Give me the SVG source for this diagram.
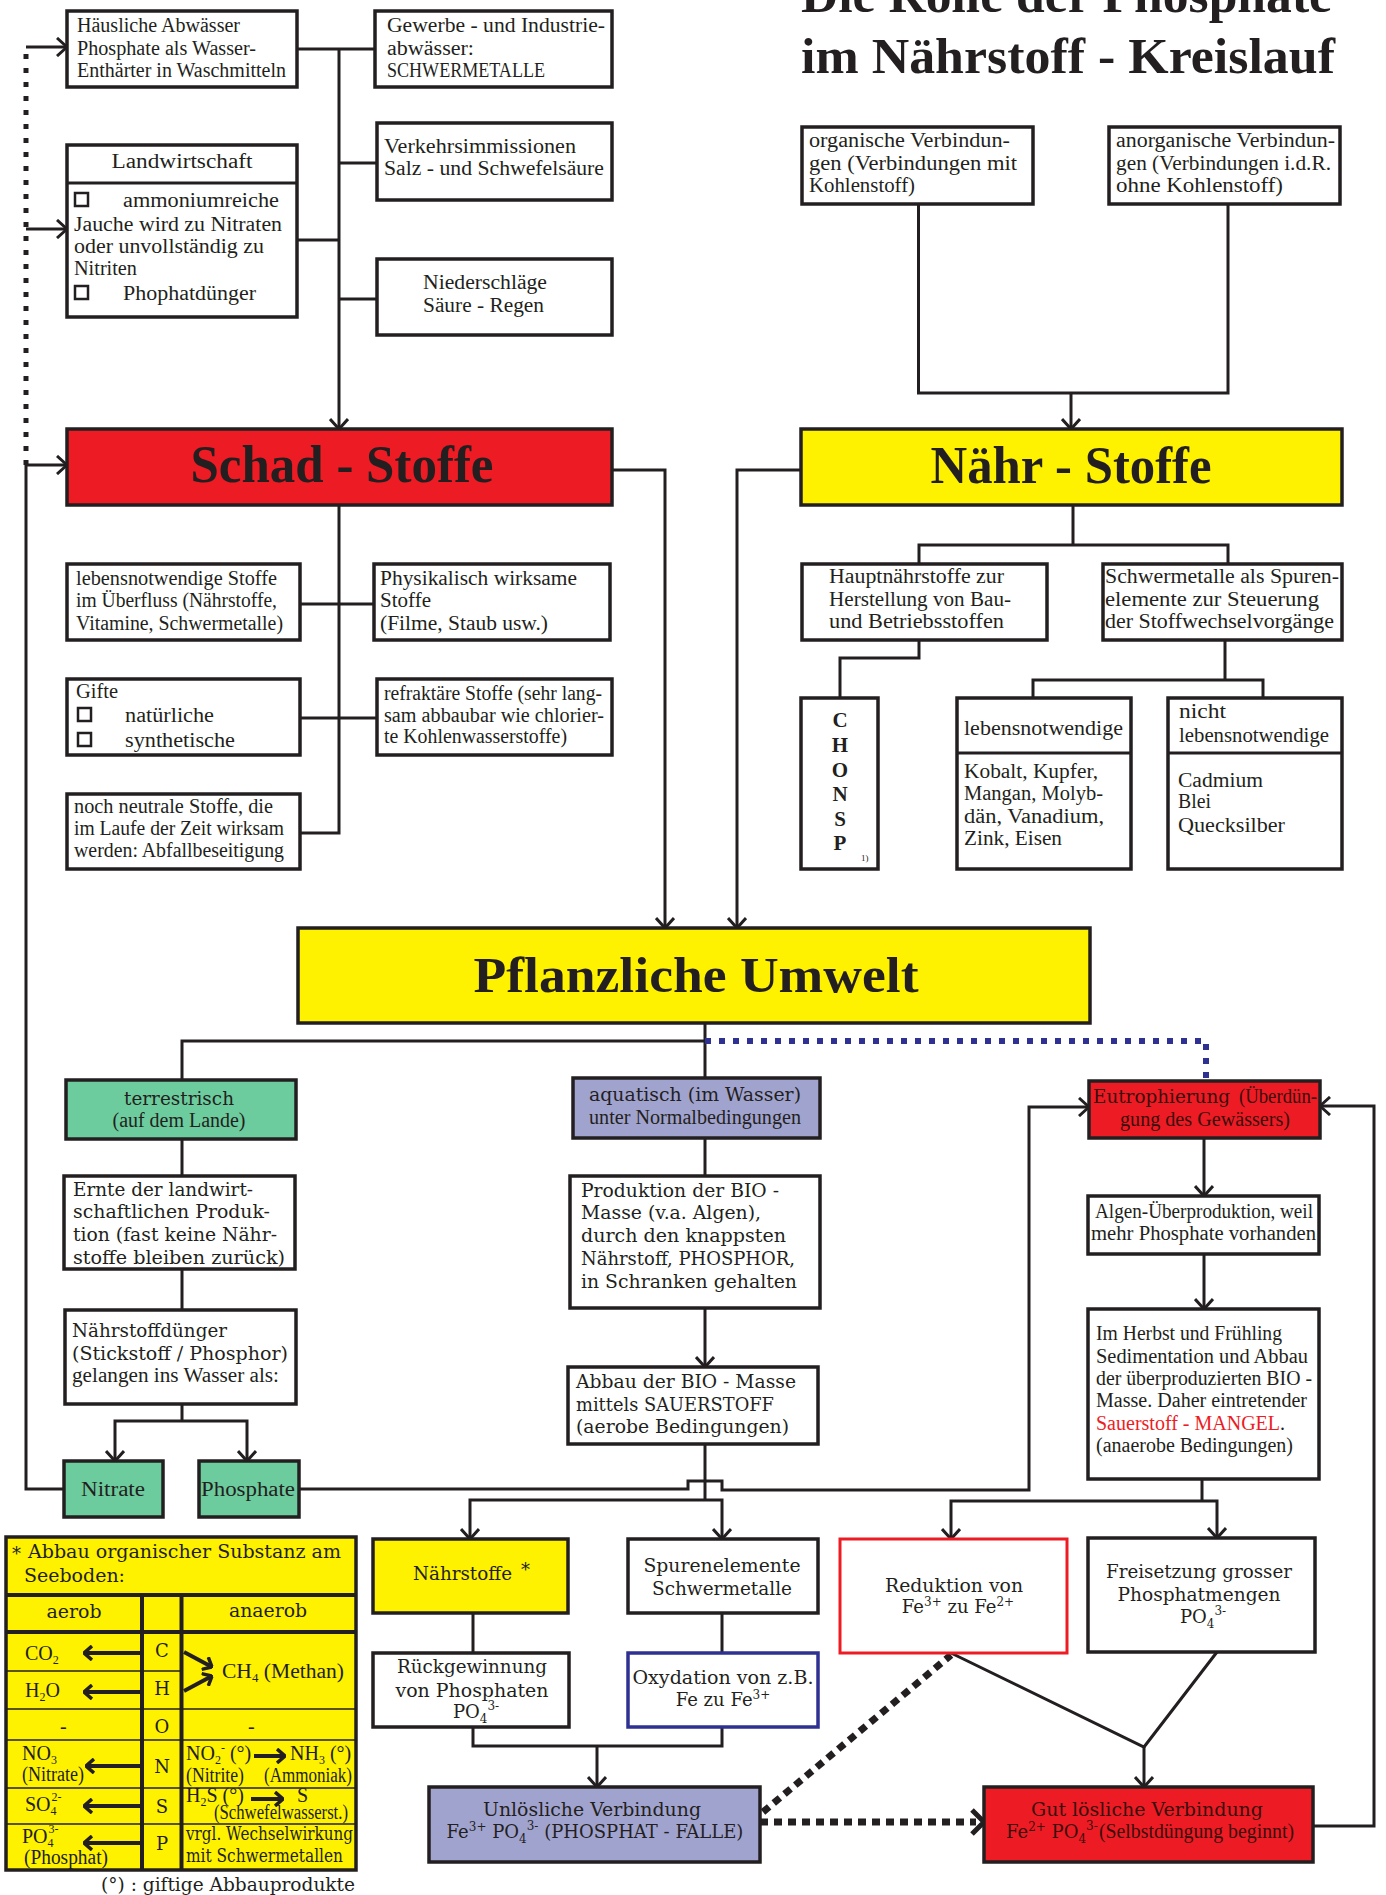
<svg xmlns="http://www.w3.org/2000/svg" width="1386" height="1895" viewBox="0 0 1386 1895">
<defs>
<style>
.b{fill:#fff;stroke:#231F20;stroke-width:3.5}
.r{fill:#ED1C24}
.y{fill:#FFF200}
.g{fill:#6DCC9E}
.l{fill:#A1A3CF}
.t{font-family:"Liberation Serif","Times New Roman",serif;font-size:20px;fill:#231F20}
.w{font-family:"DejaVu Serif","Liberation Serif",serif;font-size:18px;fill:#231F20}
.h{font-family:"Liberation Serif","Times New Roman",serif;font-weight:bold;fill:#231F20}
.m{text-anchor:middle}
.ln{fill:none;stroke:#231F20;stroke-width:3}
.a{marker-end:url(#ah)}
.cb{fill:none;stroke:#231F20;stroke-width:2.5}
.dk{fill:none;stroke:#231F20;stroke-width:5;stroke-dasharray:5 9}
.dt{fill:none;stroke:#231F20;stroke-width:7;stroke-dasharray:8 6}
.bl{fill:none;stroke:#2E3192;stroke-width:6;stroke-dasharray:6 8}
.ta{fill:none;stroke:#231F20;stroke-width:4;marker-end:url(#tb)}
.s{font-size:12px}
.dr{fill:#3C0D0D}
</style>
<marker id="ah" viewBox="0 0 12 20" refX="11" refY="10" markerWidth="12" markerHeight="20" markerUnits="userSpaceOnUse" orient="auto">
<path d="M1,1 L11,10 L1,19" fill="none" stroke="#231F20" stroke-width="3"/>
</marker>
<marker id="tb" viewBox="0 0 10 16" refX="9" refY="8" markerWidth="10" markerHeight="16" markerUnits="userSpaceOnUse" orient="auto">
<path d="M1,1 L9,8 L1,15" fill="none" stroke="#231F20" stroke-width="3.5"/>
</marker>
</defs>
<rect width="1386" height="1895" fill="#fff"/>

<g id="titel">
<text class="h" x="801" y="12" font-size="50" textLength="531" lengthAdjust="spacingAndGlyphs">Die Rolle der Phosphate</text>
<text class="h" x="801" y="73" font-size="50" textLength="534" lengthAdjust="spacingAndGlyphs">im Nährstoff - Kreislauf</text>
</g>

<g id="connectors">
<path class="ln" d="M297,49 H375"/>
<path class="ln a" d="M339,49 V429"/>
<path class="ln" d="M339,163 H377"/>
<path class="ln" d="M297,240 H339"/>
<path class="ln" d="M339,299 H377"/>
<path class="ln" d="M339,505 V833 H300"/>
<path class="ln" d="M300,604 H374"/>
<path class="ln" d="M300,718 H377"/>
<path class="ln a" d="M612,470 H665 V928"/>
<path class="ln a" d="M801,470 H737 V928"/>
<path class="ln" d="M918.5,204 V393 H1228 V204"/>
<path class="ln a" d="M1071,393 V429"/>
<path class="ln" d="M1073,505 V545 M919,564 V545 H1228 V564"/>
<path class="ln" d="M919,640 V658 H840 V698"/>
<path class="ln" d="M1225,640 V680 M1033,698 V680 H1263 V698"/>
<path class="ln" d="M705,1023 V1078 M182,1080 V1041 H705"/>
<path class="bl" d="M705,1041 H1206 V1081"/>
<path class="ln" d="M182,1139 V1176 M182,1269 V1310 M182,1404 V1421"/>
<path class="ln a" d="M182,1421 H115 V1461"/>
<path class="ln a" d="M182,1421 H247 V1461"/>
<path class="ln a" d="M64,1489 H26 V465 H67"/>
<path class="dk" d="M26,465 V45"/>
<path class="ln a" d="M26,47 H67"/>
<path class="ln a" d="M26,229 H67"/>
<path class="ln a" d="M299,1489 H688 V1481 H722 V1490 H1029 V1107 H1089"/>
<path class="ln" d="M705,1138 V1176"/>
<path class="ln a" d="M705,1308 V1367"/>
<path class="ln" d="M705,1444 V1500"/>
<path class="ln a" d="M705,1500 H470 V1539"/>
<path class="ln a" d="M705,1500 H722 V1539"/>
<path class="ln" d="M473,1613 V1653 M722,1613 V1653 M473,1727 V1746 H722 V1727"/>
<path class="ln a" d="M597,1746 V1787"/>
<path class="ln a" d="M1204,1138 V1196"/>
<path class="ln a" d="M1204,1254 V1309"/>
<path class="ln" d="M1202,1479 V1501"/>
<path class="ln a" d="M1202,1501 H951 V1539"/>
<path class="ln a" d="M1202,1501 H1217 V1538"/>
<path class="ln" d="M951,1653 L1144,1747 L1217,1652"/>
<path class="ln a" d="M1144,1747 V1787"/>
<path class="ln a" d="M1313,1826 H1374 V1106 H1320"/>
<path class="dt" d="M760,1822 H976"/>
<path d="M972,1810 L984,1822 L972,1834" fill="none" stroke="#231F20" stroke-width="5"/>
<path class="dt" d="M763,1812 L951,1655"/>
</g>

<g id="haeusliche">
<rect class="b" x="67" y="11" width="230" height="76"/>
<text class="t" x="77" y="32" textLength="163" lengthAdjust="spacingAndGlyphs">Häusliche Abwässer</text>
<text class="t" x="77" y="55" textLength="179" lengthAdjust="spacingAndGlyphs">Phosphate als Wasser-</text>
<text class="t" x="77" y="77" textLength="209" lengthAdjust="spacingAndGlyphs">Enthärter in Waschmitteln</text>
</g>
<g id="gewerbe">
<rect class="b" x="375" y="11" width="237" height="76"/>
<text class="t" x="387" y="32" textLength="218" lengthAdjust="spacingAndGlyphs">Gewerbe - und Industrie-</text>
<text class="t" x="387" y="55" textLength="87" lengthAdjust="spacingAndGlyphs">abwässer:</text>
<text class="t" x="387" y="77" textLength="158" lengthAdjust="spacingAndGlyphs">SCHWERMETALLE</text>
</g>
<g id="verkehr">
<rect class="b" x="377" y="123" width="235" height="77"/>
<text class="t" x="384" y="153" textLength="192" lengthAdjust="spacingAndGlyphs">Verkehrsimmissionen</text>
<text class="t" x="384" y="175" textLength="220" lengthAdjust="spacingAndGlyphs">Salz - und Schwefelsäure</text>
</g>
<g id="landwirtschaft">
<rect class="b" x="67" y="145" width="230" height="172"/>
<path class="ln" d="M67,183 H297" stroke-width="3.5"/>
<text class="t m" x="182" y="168" textLength="141" lengthAdjust="spacingAndGlyphs">Landwirtschaft</text>
<rect class="cb" x="75" y="193" width="13" height="13"/>
<text class="t" x="123" y="207" textLength="156" lengthAdjust="spacingAndGlyphs">ammoniumreiche</text>
<text class="t" x="74" y="231" textLength="208" lengthAdjust="spacingAndGlyphs">Jauche wird zu Nitraten</text>
<text class="t" x="74" y="253" textLength="190" lengthAdjust="spacingAndGlyphs">oder unvollständig zu</text>
<text class="t" x="74" y="275" textLength="63" lengthAdjust="spacingAndGlyphs">Nitriten</text>
<rect class="cb" x="75" y="286" width="13" height="13"/>
<text class="t" x="123" y="300" textLength="133" lengthAdjust="spacingAndGlyphs">Phophatdünger</text>
</g>
<g id="niederschlaege">
<rect class="b" x="377" y="259" width="235" height="76"/>
<text class="t" x="423" y="289" textLength="124" lengthAdjust="spacingAndGlyphs">Niederschläge</text>
<text class="t" x="423" y="312" textLength="121" lengthAdjust="spacingAndGlyphs">Säure - Regen</text>
</g>
<g id="schadstoffe">
<rect class="b r" x="67" y="429" width="545" height="76"/>
<text class="h m" x="342" y="482" font-size="53" textLength="303" lengthAdjust="spacingAndGlyphs">Schad - Stoffe</text>
</g>
<g id="naehrstoffe">
<rect class="b y" x="801" y="429" width="541" height="76"/>
<text class="h m" x="1071" y="483" font-size="53" textLength="281" lengthAdjust="spacingAndGlyphs">Nähr - Stoffe</text>
</g>
<g id="organische">
<rect class="b" x="802" y="127" width="231" height="77"/>
<text class="t" x="809" y="147" textLength="201" lengthAdjust="spacingAndGlyphs">organische Verbindun-</text>
<text class="t" x="809" y="170" textLength="208" lengthAdjust="spacingAndGlyphs">gen (Verbindungen mit</text>
<text class="t" x="809" y="192" textLength="106" lengthAdjust="spacingAndGlyphs">Kohlenstoff)</text>
</g>
<g id="anorganische">
<rect class="b" x="1109" y="127" width="231" height="77"/>
<text class="t" x="1116" y="147" textLength="219" lengthAdjust="spacingAndGlyphs">anorganische Verbindun-</text>
<text class="t" x="1116" y="170" textLength="215" lengthAdjust="spacingAndGlyphs">gen (Verbindungen i.d.R.</text>
<text class="t" x="1116" y="192" textLength="167" lengthAdjust="spacingAndGlyphs">ohne  Kohlenstoff)</text>
</g>
<g id="lebensnotwendige-stoffe">
<rect class="b" x="67" y="564" width="233" height="76"/>
<text class="t" x="76" y="585" textLength="201" lengthAdjust="spacingAndGlyphs">lebensnotwendige Stoffe</text>
<text class="t" x="76" y="607" textLength="201" lengthAdjust="spacingAndGlyphs">im Überfluss (Nährstoffe,</text>
<text class="t" x="76" y="630" textLength="207" lengthAdjust="spacingAndGlyphs">Vitamine, Schwermetalle)</text>
</g>
<g id="physikalisch">
<rect class="b" x="374" y="564" width="236" height="76"/>
<text class="t" x="380" y="585" textLength="197" lengthAdjust="spacingAndGlyphs">Physikalisch wirksame</text>
<text class="t" x="380" y="607" textLength="51" lengthAdjust="spacingAndGlyphs">Stoffe</text>
<text class="t" x="380" y="630" textLength="168" lengthAdjust="spacingAndGlyphs">(Filme, Staub usw.)</text>
</g>
<g id="gifte">
<rect class="b" x="67" y="679" width="233" height="76"/>
<text class="t" x="76" y="698" textLength="42" lengthAdjust="spacingAndGlyphs">Gifte</text>
<rect class="cb" x="78" y="708" width="13" height="13"/>
<text class="t" x="125" y="722" textLength="89" lengthAdjust="spacingAndGlyphs">natürliche</text>
<rect class="cb" x="78" y="733" width="13" height="13"/>
<text class="t" x="125" y="747" textLength="110" lengthAdjust="spacingAndGlyphs">synthetische</text>
</g>
<g id="refraktaer">
<rect class="b" x="377" y="679" width="235" height="76"/>
<text class="t" x="384" y="700" textLength="218" lengthAdjust="spacingAndGlyphs">refraktäre Stoffe (sehr lang-</text>
<text class="t" x="384" y="722" textLength="220" lengthAdjust="spacingAndGlyphs">sam abbaubar wie chlorier-</text>
<text class="t" x="384" y="743" textLength="183" lengthAdjust="spacingAndGlyphs">te Kohlenwasserstoffe)</text>
</g>
<g id="neutrale">
<rect class="b" x="67" y="794" width="233" height="75"/>
<text class="t" x="74" y="813" textLength="199" lengthAdjust="spacingAndGlyphs">noch neutrale Stoffe, die</text>
<text class="t" x="74" y="835" textLength="210" lengthAdjust="spacingAndGlyphs">im Laufe der Zeit wirksam</text>
<text class="t" x="74" y="857" textLength="210" lengthAdjust="spacingAndGlyphs">werden: Abfallbeseitigung</text>
</g>
<g id="hauptnaehrstoffe">
<rect class="b" x="802" y="564" width="245" height="76"/>
<text class="t" x="829" y="583" textLength="175" lengthAdjust="spacingAndGlyphs">Hauptnährstoffe zur</text>
<text class="t" x="829" y="606" textLength="182" lengthAdjust="spacingAndGlyphs">Herstellung von Bau-</text>
<text class="t" x="829" y="628" textLength="175" lengthAdjust="spacingAndGlyphs">und Betriebsstoffen</text>
</g>
<g id="schwermetalle">
<rect class="b" x="1103" y="564" width="239" height="76"/>
<text class="t" x="1105" y="583" textLength="234" lengthAdjust="spacingAndGlyphs">Schwermetalle als Spuren-</text>
<text class="t" x="1105" y="606" textLength="214" lengthAdjust="spacingAndGlyphs">elemente zur Steuerung</text>
<text class="t" x="1105" y="628" textLength="229" lengthAdjust="spacingAndGlyphs">der Stoffwechselvorgänge</text>
</g>
<g id="chonsp">
<rect class="b" x="801" y="698" width="77" height="171"/>
<text class="h m" x="840" y="727" font-size="21">C</text>
<text class="h m" x="840" y="752" font-size="21">H</text>
<text class="h m" x="840" y="777" font-size="21">O</text>
<text class="h m" x="840" y="801" font-size="21">N</text>
<text class="h m" x="840" y="826" font-size="21">S</text>
<text class="h m" x="840" y="850" font-size="21">P</text>
<text class="t" x="861" y="861" style="font-size:9px">1)</text>
</g>
<g id="lebensnotwendige">
<rect class="b" x="957" y="698" width="174" height="171"/>
<path class="ln" d="M957,753 H1131" stroke-width="3.5"/>
<text class="t" x="964" y="735" textLength="159" lengthAdjust="spacingAndGlyphs">lebensnotwendige</text>
<text class="t" x="964" y="778" textLength="134" lengthAdjust="spacingAndGlyphs">Kobalt, Kupfer,</text>
<text class="t" x="964" y="800" textLength="139" lengthAdjust="spacingAndGlyphs">Mangan, Molyb-</text>
<text class="t" x="964" y="823" textLength="140" lengthAdjust="spacingAndGlyphs">dän, Vanadium,</text>
<text class="t" x="964" y="845" textLength="98" lengthAdjust="spacingAndGlyphs">Zink, Eisen</text>
</g>
<g id="nicht-lebensnotwendige">
<rect class="b" x="1168" y="698" width="174" height="171"/>
<path class="ln" d="M1168,753 H1342" stroke-width="3.5"/>
<text class="t" x="1179" y="718" textLength="47" lengthAdjust="spacingAndGlyphs">nicht</text>
<text class="t" x="1179" y="742" textLength="150" lengthAdjust="spacingAndGlyphs">lebensnotwendige</text>
<text class="t" x="1178" y="787" textLength="85" lengthAdjust="spacingAndGlyphs">Cadmium</text>
<text class="t" x="1178" y="808" textLength="33" lengthAdjust="spacingAndGlyphs">Blei</text>
<text class="t" x="1178" y="832" textLength="107" lengthAdjust="spacingAndGlyphs">Quecksilber</text>
</g>
<g id="pflanzliche-umwelt">
<rect class="b y" x="298" y="928" width="792" height="95"/>
<text class="h m" x="696" y="992" font-size="50" textLength="445" lengthAdjust="spacingAndGlyphs">Pflanzliche Umwelt</text>
</g>
<g id="terrestrisch">
<rect class="b g" x="66" y="1080" width="230" height="59"/>
<text class="w m" x="179" y="1105" textLength="110" lengthAdjust="spacingAndGlyphs">terrestrisch</text>
<text class="t m" x="179" y="1127" textLength="133" lengthAdjust="spacingAndGlyphs">(auf dem Lande)</text>
</g>
<g id="aquatisch">
<rect class="b l" x="573" y="1078" width="247" height="60"/>
<text class="w" x="589" y="1101" textLength="212" lengthAdjust="spacingAndGlyphs">aquatisch (im Wasser)</text>
<text class="t" x="589" y="1124" textLength="212" lengthAdjust="spacingAndGlyphs">unter Normalbedingungen</text>
</g>
<g id="ernte">
<rect class="b" x="64" y="1176" width="231" height="93"/>
<text class="w" x="73" y="1196" textLength="180" lengthAdjust="spacingAndGlyphs">Ernte der landwirt-</text>
<text class="w" x="73" y="1218" textLength="197" lengthAdjust="spacingAndGlyphs">schaftlichen Produk-</text>
<text class="w" x="73" y="1241" textLength="204" lengthAdjust="spacingAndGlyphs">tion (fast keine Nähr-</text>
<text class="w" x="73" y="1264" textLength="212" lengthAdjust="spacingAndGlyphs">stoffe bleiben zurück)</text>
</g>
<g id="duenger">
<rect class="b" x="65" y="1310" width="231" height="94"/>
<text class="w" x="72" y="1337" textLength="155" lengthAdjust="spacingAndGlyphs">Nährstoffdünger</text>
<text class="w" x="72" y="1360" textLength="216" lengthAdjust="spacingAndGlyphs">(Stickstoff / Phosphor)</text>
<text class="t" x="72" y="1382" textLength="207" lengthAdjust="spacingAndGlyphs">gelangen ins Wasser als:</text>
</g>
<g id="nitrate">
<rect class="b g" x="64" y="1461" width="99" height="56"/>
<text class="t m" x="113" y="1496" textLength="64" lengthAdjust="spacingAndGlyphs">Nitrate</text>
</g>
<g id="phosphate">
<rect class="b g" x="199" y="1461" width="100" height="56"/>
<text class="t m" x="248" y="1496" textLength="94" lengthAdjust="spacingAndGlyphs">Phosphate</text>
</g>
<g id="produktion">
<rect class="b" x="570" y="1176" width="250" height="132"/>
<text class="w" x="581" y="1197" textLength="198" lengthAdjust="spacingAndGlyphs">Produktion der BIO -</text>
<text class="w" x="581" y="1219" textLength="180" lengthAdjust="spacingAndGlyphs">Masse (v.a. Algen),</text>
<text class="w" x="581" y="1242" textLength="205" lengthAdjust="spacingAndGlyphs">durch den knappsten</text>
<text class="w" x="581" y="1265" textLength="214" lengthAdjust="spacingAndGlyphs">Nährstoff, PHOSPHOR,</text>
<text class="w" x="581" y="1288" textLength="216" lengthAdjust="spacingAndGlyphs">in Schranken gehalten</text>
</g>
<g id="abbau">
<rect class="b" x="568" y="1367" width="250" height="77"/>
<text class="w" x="576" y="1388" textLength="220" lengthAdjust="spacingAndGlyphs">Abbau der BIO - Masse</text>
<text class="w" x="576" y="1411" textLength="198" lengthAdjust="spacingAndGlyphs">mittels SAUERSTOFF</text>
<text class="w" x="576" y="1433" textLength="213" lengthAdjust="spacingAndGlyphs">(aerobe Bedingungen)</text>
</g>
<g id="eutrophierung">
<rect class="b r" x="1089" y="1081" width="231" height="57"/>
<text class="w dr" x="1093" y="1103" textLength="137" lengthAdjust="spacingAndGlyphs">Eutrophierung</text>
<text class="t dr" x="1239" y="1103" textLength="78" lengthAdjust="spacingAndGlyphs">(Überdün-</text>
<text class="t dr" x="1120" y="1126" textLength="170" lengthAdjust="spacingAndGlyphs">gung des Gewässers)</text>
</g>
<g id="algen">
<rect class="b" x="1088" y="1196" width="231" height="58"/>
<text class="t" x="1095" y="1218" textLength="218" lengthAdjust="spacingAndGlyphs">Algen-Überproduktion, weil</text>
<text class="t" x="1091" y="1240" textLength="225" lengthAdjust="spacingAndGlyphs">mehr Phosphate vorhanden</text>
</g>
<g id="herbst">
<rect class="b" x="1088" y="1309" width="231" height="170"/>
<text class="t" x="1096" y="1340" textLength="186" lengthAdjust="spacingAndGlyphs">Im Herbst und Frühling</text>
<text class="t" x="1096" y="1363" textLength="212" lengthAdjust="spacingAndGlyphs">Sedimentation und Abbau</text>
<text class="t" x="1096" y="1385" textLength="216" lengthAdjust="spacingAndGlyphs">der überproduzierten BIO -</text>
<text class="t" x="1096" y="1407" textLength="211" lengthAdjust="spacingAndGlyphs">Masse. Daher eintretender</text>
<text class="t" x="1096" y="1430" style="fill:#ED1C24">Sauerstoff - MANGEL<tspan style="fill:#231F20">.</tspan></text>
<text class="t" x="1096" y="1452" textLength="197" lengthAdjust="spacingAndGlyphs">(anaerobe Bedingungen)</text>
</g>
<g id="naehrstoffe-stern">
<rect class="b y" x="373" y="1539" width="195" height="74"/>
<text class="w" x="413" y="1580" textLength="99" lengthAdjust="spacingAndGlyphs">Nährstoffe</text>
<text class="w" x="521" y="1576" font-size="13">*</text>
</g>
<g id="spurenelemente">
<rect class="b" x="628" y="1539" width="190" height="74"/>
<text class="w m" x="722" y="1572" textLength="157" lengthAdjust="spacingAndGlyphs">Spurenelemente</text>
<text class="w m" x="722" y="1595" textLength="140" lengthAdjust="spacingAndGlyphs">Schwermetalle</text>
</g>
<g id="rueckgewinnung">
<rect class="b" x="373" y="1653" width="196" height="74"/>
<text class="w m" x="472" y="1673" textLength="150" lengthAdjust="spacingAndGlyphs">Rückgewinnung</text>
<text class="w m" x="472" y="1697" textLength="153" lengthAdjust="spacingAndGlyphs">von Phosphaten</text>
<text class="w m" x="476" y="1718">PO<tspan class="s" dy="5">4</tspan><tspan class="s" dy="-13">3-</tspan></text>
</g>
<g id="oxydation">
<rect x="628" y="1653" width="190" height="74" fill="#fff" stroke="#2E3192" stroke-width="3.5"/>
<text class="w m" x="723" y="1684" textLength="181" lengthAdjust="spacingAndGlyphs">Oxydation von z.B.</text>
<text class="w m" x="723" y="1706">Fe zu Fe<tspan class="s" dy="-7">3+</tspan></text>
</g>
<g id="unloeslich">
<rect class="b l" x="429" y="1787" width="331" height="75"/>
<text class="w m" x="592" y="1816" textLength="218" lengthAdjust="spacingAndGlyphs">Unlösliche Verbindung</text>
<text class="w m" x="595" y="1838">Fe<tspan class="s" dy="-7">3+</tspan><tspan dy="7"> PO</tspan><tspan class="s" dy="5">4</tspan><tspan class="s" dy="-13">3-</tspan><tspan dy="8"> (PHOSPHAT - FALLE)</tspan></text>
</g>
<g id="reduktion">
<rect x="840" y="1539" width="227" height="114" fill="#fff" stroke="#ED1C24" stroke-width="3"/>
<text class="w m" x="954" y="1592" textLength="138" lengthAdjust="spacingAndGlyphs">Reduktion von</text>
<text class="w m" x="958" y="1613">Fe<tspan class="s" dy="-7">3+</tspan><tspan dy="7"> zu Fe</tspan><tspan class="s" dy="-7">2+</tspan></text>
</g>
<g id="freisetzung">
<rect class="b" x="1088" y="1538" width="227" height="114"/>
<text class="w m" x="1199" y="1578" textLength="186" lengthAdjust="spacingAndGlyphs">Freisetzung grosser</text>
<text class="w m" x="1199" y="1601" textLength="163" lengthAdjust="spacingAndGlyphs">Phosphatmengen</text>
<text class="w m" x="1203" y="1623">PO<tspan class="s" dy="5">4</tspan><tspan class="s" dy="-13">3-</tspan></text>
</g>
<g id="gut-loeslich">
<rect class="b r" x="984" y="1787" width="329" height="75"/>
<text class="w m dr" x="1147" y="1816" textLength="232" lengthAdjust="spacingAndGlyphs">Gut lösliche Verbindung</text>
<text class="w dr" x="1006" y="1838">Fe<tspan class="s" dy="-7">2+</tspan><tspan dy="7"> PO</tspan><tspan class="s" dy="5">4</tspan><tspan class="s" dy="-13">3-</tspan></text>
<text class="t dr" x="1099" y="1838" textLength="195" lengthAdjust="spacingAndGlyphs">(Selbstdüngung beginnt)</text>
</g>

<g id="tabelle">
<rect x="6" y="1537" width="350" height="333" fill="#FFF200" stroke="#231F20" stroke-width="3.5"/>
<path d="M6,1595 H356 M6,1632 H356 M142,1595 V1870 M181.5,1595 V1870" stroke="#231F20" stroke-width="4" fill="none"/>
<path d="M6,1671 H181 M6,1709 H356 M6,1740 H356 M6,1788 H356 M6,1824 H356" stroke="#231F20" stroke-width="1.5" fill="none"/>
<text class="w" x="12" y="1560" font-size="14">*</text>
<text class="w" x="28" y="1558" font-size="16" textLength="313" lengthAdjust="spacingAndGlyphs">Abbau organischer Substanz am</text>
<text class="w" x="24" y="1582" font-size="16" textLength="101" lengthAdjust="spacingAndGlyphs">Seeboden:</text>
<text class="w m" x="74" y="1618" font-size="17" textLength="55" lengthAdjust="spacingAndGlyphs">aerob</text>
<text class="w m" x="268" y="1617" font-size="17" textLength="78" lengthAdjust="spacingAndGlyphs">anaerob</text>
<text class="w m" x="162" y="1657">C</text>
<text class="w m" x="162" y="1695">H</text>
<text class="w m" x="162" y="1733">O</text>
<text class="w m" x="162" y="1773">N</text>
<text class="w m" x="162" y="1813">S</text>
<text class="w m" x="162" y="1850">P</text>
<text class="t" x="25" y="1660">CO<tspan class="s" dy="4">2</tspan></text>
<text class="t" x="25" y="1697">H<tspan class="s" dy="4">2</tspan><tspan dy="-4">O</tspan></text>
<text class="t" x="60" y="1733">-</text>
<text class="t" x="248" y="1733">-</text>
<text class="t" x="22" y="1760">NO<tspan class="s" dy="4">3</tspan></text>
<text class="t" x="22" y="1781" font-size="16" textLength="62" lengthAdjust="spacingAndGlyphs">(Nitrate)</text>
<text class="t" x="25" y="1811">SO<tspan class="s" dy="4">4</tspan><tspan class="s" dx="-5" dy="-14">2-</tspan></text>
<text class="t" x="22" y="1843">PO<tspan class="s" dy="4">4</tspan><tspan class="s" dx="-5" dy="-14">3-</tspan></text>
<text class="t" x="24" y="1864" font-size="16" textLength="84" lengthAdjust="spacingAndGlyphs">(Phosphat)</text>
<path class="ta" d="M141,1653 H84"/>
<path class="ta" d="M141,1692 H84"/>
<path class="ta" d="M141,1766 H86"/>
<path class="ta" d="M141,1806 H84"/>
<path class="ta" d="M141,1843 H84"/>
<path class="ta" d="M184,1652 L212,1667"/>
<path class="ta" d="M184,1691 L212,1676"/>
<text class="t" x="222" y="1678" textLength="122" lengthAdjust="spacingAndGlyphs">CH<tspan class="s" dy="4">4</tspan><tspan dy="-4"> (Methan)</tspan></text>
<text class="t" x="186" y="1760">NO<tspan class="s" dy="4">2</tspan><tspan class="s" dy="-12">-</tspan><tspan dy="8"> (°)</tspan></text>
<path class="ta" d="M254,1756 H285"/>
<text class="t" x="290" y="1760">NH<tspan class="s" dy="4">3</tspan><tspan dy="-4"> (°)</tspan></text>
<text class="t" x="186" y="1782" font-size="16" textLength="58" lengthAdjust="spacingAndGlyphs">(Nitrite)</text>
<text class="t" x="264" y="1782" font-size="16" textLength="88" lengthAdjust="spacingAndGlyphs">(Ammoniak)</text>
<text class="t" x="186" y="1802">H<tspan class="s" dy="4">2</tspan><tspan dy="-4">S (°)</tspan></text>
<path class="ta" d="M251,1799 H283"/>
<text class="t" x="297" y="1802">S</text>
<text class="t" x="214" y="1819" font-size="15" textLength="134" lengthAdjust="spacingAndGlyphs">(Schwefelwasserst.)</text>
<text class="w" x="186" y="1840" font-size="15" textLength="167" lengthAdjust="spacingAndGlyphs">vrgl. Wechselwirkung</text>
<text class="w" x="186" y="1862" font-size="15" textLength="157" lengthAdjust="spacingAndGlyphs">mit Schwermetallen</text>
</g>
<g id="fussnote">
<text class="w" x="101" y="1891" textLength="254" lengthAdjust="spacingAndGlyphs">(°) : giftige Abbauprodukte</text>
</g>
</svg>
